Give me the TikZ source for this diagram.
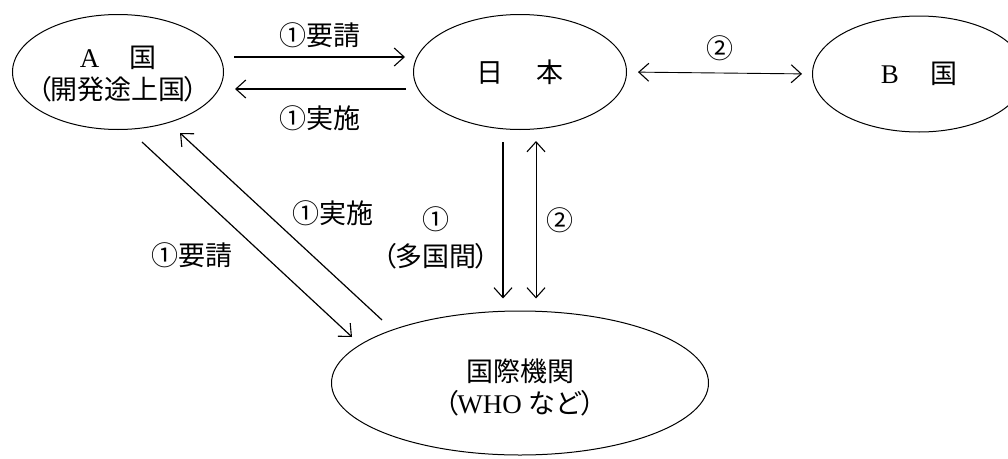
\documentclass[tikz,border=0pt]{standalone}
\usepackage{fontspec}
\setmainfont{Liberation Serif}
\newfontfamily\cjk{Noto Sans CJK JP}
\usetikzlibrary{shapes.geometric,arrows.meta}
\newcommand{\lp}{{\cjk （}\kern-2pt}
\newcommand{\rp}{\kern-2pt{\cjk ）}}
\begin{document}
\begin{tikzpicture}[x=1pt,y=-1pt,
  ell/.style={ellipse, draw, line width=1pt, inner sep=0pt},
  etxt/.style={inner sep=0pt, align=center, font=\fontsize{27}{32}\selectfont},
  tip/.tip={Straight Barb[length=10pt,width=18pt,line width=1.1pt]},
  arr/.style={line width=1.2pt, -tip},
  darr/.style={line width=0.9pt, tip-tip},
  lbl/.style={font=\cjk\fontsize{27}{37}\selectfont, inner sep=0pt, align=center}]
\useasboundingbox (0,0) rectangle (1008,458);
\fill[white] (0,0) rectangle (1008,458);
\clip (0,0) rectangle (1008,458);
% ellipses
\node[ell, minimum width=211pt, minimum height=115pt] (A) at (118,72) {};
\node[ell, minimum width=213pt, minimum height=115pt] (J) at (520,72) {};
\node[ell, minimum width=213pt, minimum height=116pt] (B) at (919,74) {};
\node[ell, minimum width=377pt, minimum height=144pt] (I) at (520,383) {};
% ellipse texts
\node[etxt] (At) at ([yshift=-2pt]A) {A\hspace{1.1em}{\cjk 国}\\\lp{\cjk 開発途上国}\rp};
\node[etxt] (Jt) at (J) {{\cjk 日\hspace{1.25em}本}};
\node[etxt] (Bt) at (B) {B\hspace{1.15em}{\cjk 国}};
\node[etxt] (It) at ([yshift=-4pt]I) {{\cjk 国際機関}\\\lp WHO {\cjk など}\rp};
% coordinates for diagonal connectors
\coordinate (Ar) at (142,142);
\coordinate (Ir) at (352,337);
\coordinate (Ii) at (382,320);
\coordinate (Ai) at (180,133);
% A <-> Japan
\draw[arr, shorten <=10pt, shorten >=8pt] ([yshift=15pt]A.east) -- ([yshift=15pt]J.west);
\draw[arr, shorten <=7pt, shorten >=11pt] ([yshift=-17pt]J.west) -- ([yshift=-17pt]A.east);
% Japan <-> B
\draw[darr, shorten <=11pt, shorten >=10pt] (J.east) -- (B.west);
% Japan -> International
\draw[arr, shorten <=12pt, shorten >=12pt] ([xshift=-17pt]J.south) -- ([xshift=-17pt]I.north);
\draw[darr, line width=0.8pt, shorten <=11pt, shorten >=12pt] ([xshift=16pt]J.south) -- ([xshift=16pt]I.north);
% A <-> International
\draw[arr] (Ar) -- (Ir);
\draw[arr] (Ii) -- (Ai);
% labels
\node[lbl] (l1) at (320,35) {①要請};
\node[lbl] (l2) at (320,118) {①実施};
\node[lbl] (l3) at (720,48) {②};
\node[lbl] (l4) at (333,213) {①実施};
\node[lbl] (l5) at (192,255) {①要請};
\node[lbl] (l6) at (436,238) {①\\\lp 多国間\rp};
\node[lbl] (l7) at (560,220) {②};
\end{tikzpicture}
\end{document}
